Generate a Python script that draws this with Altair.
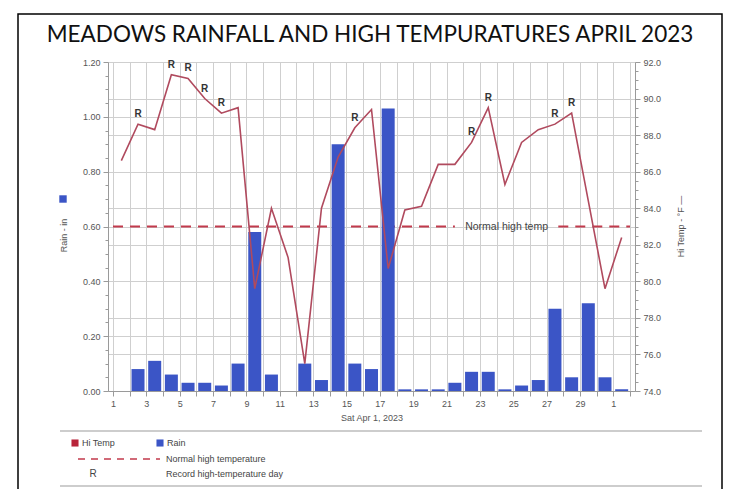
import altair as alt
import pandas as pd

# ---- data ----
days = list(range(1, 32))  # Apr 1 .. May 1 (31 = May 1)
rain_in = [0.00, 0.08, 0.11, 0.06, 0.03, 0.03, 0.02, 0.10, 0.58, 0.06,
           0.00, 0.10, 0.04, 0.90, 0.10, 0.08, 1.03, 0.006, 0.006, 0.006,
           0.03, 0.07, 0.07, 0.006, 0.02, 0.04, 0.30, 0.05, 0.32, 0.05, 0.006]
hi_temp = [86.6, 88.6, 88.3, 91.3, 91.1, 90.0, 89.2, 89.5, 79.6, 84.0,
           81.3, 75.5, 84.0, 86.8, 88.4, 89.4, 80.7, 83.9, 84.1, 86.4,
           86.4, 87.6, 89.5, 85.3, 87.6, 88.3, 88.6, 89.2, 84.4, 79.6, 82.4]
record_days = [2, 4, 5, 6, 7, 15, 22, 23, 27, 28]
normal_high = 83.0
normal_seg_start = [1.0, 27.7]
normal_seg_end = [21.5, 32.0]
normal_label_day = 24.6
x_tick_values = list(range(1, 33))
rain_ticks = [round(i * 0.05, 2) for i in range(25)]
temp_ticks = [74 + i * 0.5 for i in range(37)]

title_text = "MEADOWS RAINFALL AND HIGH TEMPURATURES APRIL 2023"

df = pd.DataFrame({"day": days, "rain": rain_in, "temp": hi_temp})
rec = df[df["day"].isin(record_days)].reset_index(drop=True)
norm = pd.DataFrame({"start": normal_seg_start, "end": normal_seg_end,
                     "temp": [normal_high] * len(normal_seg_start)})
norm_lab = pd.DataFrame({"day": [normal_label_day], "temp": [normal_high],
                         "label": ["Normal high temp"]})

FONT = "Liberation Sans"
GRID = "#cfcfcf"
AXC = "#9a9a9a"
LAB = "#555555"
BLUE = "#3b55c6"
LINE_RED = "#b04a5e"
DASH_RED = "#c23a4c"

x_scale = alt.Scale(domain=[1, 32], nice=False, zero=False)
x_axis = alt.Axis(
    values=x_tick_values,
    labelExpr="datum.value % 2 == 1 ? (datum.value > 30 ? '' + (datum.value - 30) : '' + datum.value) : ''",
    labelOverlap=False, labelFlush=False,
    title="Sat Apr 1, 2023", grid=True, gridColor=GRID, domainColor=AXC,
    tickColor=AXC, tickSize=5, labelFont=FONT, labelFontSize=9, labelColor=LAB,
    labelPadding=3, titleFont=FONT, titleFontSize=9, titleFontWeight="normal",
    titleColor=LAB, titleY=26, titleBaseline="middle")

major_rain = "round(datum.value*100) % 20 == 0"
rain_axis = alt.Axis(
    orient="left", values=rain_ticks,
    labelExpr=f"{major_rain} ? format(datum.value, '.2f') : ''",
    labelOverlap=False, labelFlush=False,
    tickSize={"condition": {"test": major_rain, "value": 5}, "value": 3},
    gridOpacity={"condition": {"test": major_rain, "value": 1}, "value": 0},
    grid=True, gridColor=GRID, domainColor=AXC, tickColor=AXC,
    labelFont=FONT, labelFontSize=9, labelColor=LAB, labelPadding=3,
    title="Rain - in", titleFont=FONT, titleFontSize=9, titleFontWeight="normal",
    titleColor=LAB, titleX=-45, titleY=173, titleAngle=270,
    titleAlign="center", titleBaseline="middle")

major_temp = "round(datum.value*10) % 20 == 0"
temp_axis = alt.Axis(
    orient="right", values=temp_ticks,
    labelExpr=f"{major_temp} ? format(datum.value, '.1f') : ''",
    labelOverlap=False, labelFlush=False,
    tickSize={"condition": {"test": major_temp, "value": 5}, "value": 3},
    gridOpacity={"condition": {"test": major_temp, "value": 1}, "value": 0},
    grid=True, gridColor=GRID, domainColor=AXC, tickColor=AXC,
    labelFont=FONT, labelFontSize=9, labelColor=LAB, labelPadding=3,
    title="Hi Temp - °F —", titleFont=FONT, titleFontSize=9, titleFontWeight="normal",
    titleColor=LAB, titleX=45, titleY=164, titleAngle=270,
    titleAlign="center", titleBaseline="middle")

rain_scale = alt.Scale(domain=[0, 1.2], nice=False)
temp_scale = alt.Scale(domain=[74, 92], nice=False, zero=False)

dashes = alt.Chart(norm).mark_rule(color=DASH_RED, strokeWidth=2, strokeDash=[10, 7]).encode(
    x=alt.X("start:Q", scale=x_scale, axis=x_axis),
    x2="end:Q",
    y=alt.Y("temp:Q", scale=temp_scale, axis=None))

bars = alt.Chart(df).transform_calculate(xpos="datum.day + 0.5").mark_bar(
    size=13, color=BLUE).encode(
    x=alt.X("xpos:Q", scale=x_scale, axis=x_axis),
    y=alt.Y("rain:Q", scale=rain_scale, axis=rain_axis))

line = alt.Chart(df).transform_calculate(xpos="datum.day + 0.5").mark_line(
    color=LINE_RED, strokeWidth=1.6).encode(
    x=alt.X("xpos:Q", scale=x_scale, axis=x_axis),
    y=alt.Y("temp:Q", scale=temp_scale, axis=temp_axis))

rtext = alt.Chart(rec).transform_calculate(xpos="datum.day + 0.5").mark_text(
    text="R", font=FONT, fontSize=10, fontWeight="bold", color="#333333", dy=-10).encode(
    x=alt.X("xpos:Q", scale=x_scale, axis=x_axis),
    y=alt.Y("temp:Q", scale=temp_scale, axis=None))

nlabel = alt.Chart(norm_lab).mark_text(
    font=FONT, fontSize=10.5, color="#444444", baseline="middle").encode(
    x=alt.X("day:Q", scale=x_scale, axis=x_axis),
    y=alt.Y("temp:Q", scale=temp_scale, axis=None),
    text="label:N")

one = pd.DataFrame({"k": [0]})

frame = alt.Chart(one).mark_rect(fillOpacity=0, stroke="black", strokeWidth=1.5).encode(
    x=alt.value(-90), x2=alt.value(614), y=alt.value(-48), y2=alt.value(480))

title_mark = alt.Chart(pd.DataFrame({"t": [title_text]})).mark_text(
    font="Lato", fontSize=22.5, color="#111111", align="center", baseline="middle").encode(
    x=alt.value(262), y=alt.value(-27), text="t:N")

rain_sym = alt.Chart(one).mark_square(size=55, color=BLUE, opacity=1).encode(
    x=alt.value(-45), y=alt.value(137))

leg_line_top = alt.Chart(one).mark_rule(color="#bdbdbd", strokeWidth=1.5).encode(
    x=alt.value(-48), x2=alt.value(594), y=alt.value(369))
leg_line_bottom = alt.Chart(one).mark_rule(color="#bdbdbd", strokeWidth=1.5).encode(
    x=alt.value(-48), x2=alt.value(594), y=alt.value(424))

leg_red_sq = alt.Chart(one).mark_square(size=50, color="#b8243a", opacity=1).encode(
    x=alt.value(-33), y=alt.value(381))
leg_blue_sq = alt.Chart(one).mark_square(size=50, color=BLUE, opacity=1).encode(
    x=alt.value(52), y=alt.value(381))
leg_dash = alt.Chart(one).mark_rule(color=DASH_RED, strokeWidth=1.6, strokeDash=[7, 6]).encode(
    x=alt.value(-30), x2=alt.value(52), y=alt.value(397))


def leg_text(txt, x, y, align="left", weight="normal", size=9):
    return alt.Chart(pd.DataFrame({"t": [txt]})).mark_text(
        font=FONT, fontSize=size, color="#444444", align=align, baseline="middle",
        fontWeight=weight).encode(x=alt.value(x), y=alt.value(y), text="t:N")


legend_layers = [
    leg_text("Hi Temp", -26, 381),
    leg_text("Rain", 59, 381),
    leg_text("Normal high temperature", 58, 397),
    leg_text("R", -15, 412, align="center", size=10),
    leg_text("Record high-temperature day", 58, 412),
]

chart = alt.layer(
    dashes, bars, line, rtext, nlabel,
    frame, title_mark, rain_sym, leg_line_top, leg_line_bottom,
    leg_red_sq, leg_blue_sq, leg_dash,
    *legend_layers
).resolve_scale(y="independent").properties(
    width=527, height=329,
    padding={"left": 100, "top": 54, "right": 95, "bottom": 98},
    autosize=alt.AutoSizeParams(type="none"),
).configure_view(stroke=AXC).configure(background="white")

chart.save("out.html", embed_options={"renderer": "svg", "actions": False})
